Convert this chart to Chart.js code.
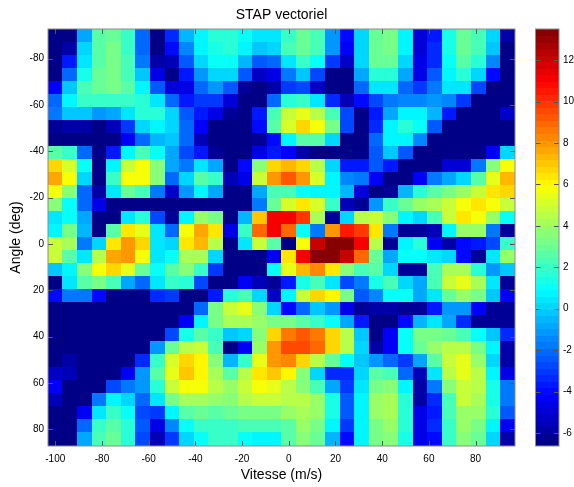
<!DOCTYPE html>
<html>
<head>
<meta charset="utf-8">
<style>
  html, body { margin: 0; padding: 0; background: #fff; }
  #wrap { position: relative; width: 574px; height: 487px; overflow: hidden; }
  #mapCanvas { position: absolute; left: 0; top: 0; }
  #barCanvas { position: absolute; left: 525px; top: 0; }
</style>
<script src="https://cdn.jsdelivr.net/npm/chart.js@4/dist/chart.umd.min.js"></script>
</head>
<body>
<div id="wrap">
  <canvas id="mapCanvas" width="574" height="487"></canvas>
  <canvas id="barCanvas" width="49" height="487"></canvas>
</div>
<script>
// cell centres
const vitesse = [-100, -93.75, -87.5, -81.25, -75, -68.75, -62.5, -56.25, -50, -43.75, -37.5, -31.25, -25, -18.75, -12.5, -6.25,
  0, 6.25, 12.5, 18.75, 25, 31.25, 37.5, 43.75, 50, 56.25, 62.5, 68.75, 75, 81.25, 87.5, 93.75];
const angle = [-90, -84.375, -78.75, -73.125, -67.5, -61.875, -56.25, -50.625, -45, -39.375, -33.75, -28.125, -22.5, -16.875, -11.25, -5.625,
  0, 5.625, 11.25, 16.875, 22.5, 28.125, 33.75, 39.375, 45, 50.625, 56.25, 61.875, 67.5, 73.125, 78.75, 84.375];

const xTicks = [-100, -80, -60, -40, -20, 0, 20, 40, 60, 80];
const yTicks = [-80, -60, -40, -20, 0, 20, 40, 60, 80];
const barTicks = [-6, -4, -2, 0, 2, 4, 6, 8, 10, 12];

const colorMin = -6.63;
const colorMax = 13.5;

// one row per angle, values in dB
const stap = [
  [-6.5,-6.5,-0.8,2.5,3,2,-2.2,-6.5,-3.3,-0.5,0.9,1.6,1.8,1,0.3,0.6, 2,3,2.4,-1,-4,0,3,3.2,0.9,-5,-3.5,1.3,3,2.4,0,-6],
  [-6.5,-5.8,0,2.5,3.2,2,-2,-6.5,-4,-1.3,0.8,1.3,1.6,0.9,-0.3,0.2, 2.2,3,2.2,-1.2,-4.2,0.1,3,3.3,0.9,-4.8,-3.3,1.4,3,2.2,-0.2,-6.5],
  [-6.5,-3.6,0.5,2.7,3.2,2.2,-1.7,-6,-5.5,-2.5,0,1,1,-0.5,-2.5,-2, 0.6,2,1,-3,-5.3,0,2.9,2.9,0,-4.6,-3.4,1,2.5,1.6,-1.5,-6.5],
  [-6.5,-2,1.5,3,3.2,2.2,-0.3,-4.7,-6.4,-3.7,-1,0.2,0.2,-2.5,-5.3,-4.6, -1.6,-0.3,-2.6,-6.5,-6.5,-0.8,1.8,1.8,-0.8,-4.5,-2.5,0.9,1.6,0.2,-3.9,-6.5],
  [-4.3,-0.2,2.2,3,3.2,2.5,0.7,-2.5,-5,-4.5,-2,-1,-2.5,-6.2,-6.5,-6, -3,-2.7,-5.3,-6.5,-6.5,-2,0.4,0.5,-2,-3,-1.8,0.4,0.3,-2.7,-6.5,-6.5],
  [-2,0.9,2,2.1,2.1,2.1,1.8,0.3,-2,-3.5,-3,-3,-4.8,-6.4,-6.5,-2, 1.7,1.9,0.6,-3.2,-5.5,-4,-2.7,-1.8,-1.5,-1.5,-1,-1.4,-3.1,-6.5,-6.5,-6.5],
  [-1.7,-0.2,-0.2,-1,-0.7,0.6,1.8,1.8,0,-2.5,-3.6,-4.6,-6.3,-6.5,-3.6,2.2, 4.7,5.4,4.6,2.2,-2.7,-6.5,-3.5,-0.8,0.7,0.8,-0.6,-3.6,-6.5,-6.5,-6.5,-5.3],
  [-6.2,-6,-6,-6.5,-5.6,-3,0,0.9,0.2,-2,-4.2,-6.5,-6.5,-6.5,-3.8,2.5, 5.3,6.6,5.8,3.4,-2.7,-6.5,-3.2,0.9,1.8,1,-2.3,-6.5,-6.5,-6.5,-6.5,-6.5],
  [-6.5,-6.5,-6.5,-6.5,-6.5,-4.2,-2,-0.5,-0.3,-2.2,-5.4,-6.5,-6.5,-6.5,-6.3,-3.8, 0.9,2.7,2.5,0,-6.5,-6.5,-2,0.8,0.7,-1.3,-6.5,-6.5,-6.5,-6.5,-6.5,-6.5],
  [2.7,2,-2,-6.5,-3.5,0.8,2.2,1.2,-0.7,-2.7,-3.7,-6.2,-6.5,-6.4,-4.6,-3.5, -4.2,-5.7,-6.4,-6.5,-6.5,-6.4,-2.4,-0.2,-2.4,-6.5,-6.5,-6.5,-6.5,-6.5,-4.3,0.2],
  [6.8,5.3,1,-6.5,0.9,4.8,5.7,3.6,-0.7,-1.9,0.4,-0.7,-6.5,-4,3.5,6.8, 7.3,6.7,4.5,0,-3.6,-3.5,-2.5,-3.7,-6.5,-6.5,-6.4,-5,-5,-1.9,3.5,5.9],
  [7.8,5.8,0.2,-6.5,2,5.9,5.9,3.7,-2,0.2,2.5,2,-5.5,-4.5,4.8,8, 9.3,7.9,5.2,0.9,-1.3,-1.9,-4.2,-6.5,-6.4,-4.2,-1.6,-0.8,0.2,2.8,5.5,7.3],
  [5.8,3.5,-2,-6,0.5,3,2.3,-1.7,-5.3,-1,0.9,-0.7,-6.5,-6.5,-0.8,2.2, 2.2,1.2,0.8,0.8,-0.5,-5,-6.4,-6.2,-0.5,1.8,2.5,3.2,4,5,6.3,6.8],
  [3.6,1,-2,-4.5,-6.5,-6.5,-6.5,-6.5,-6.5,-6.5,-6.5,-6.5,-6.5,-6.5,-1.7,3, 5.2,6.5,5.2,2.1,-5.5,-6.2,-1.2,2,3.1,4,4.1,5,5.9,6.5,5.9,4.8],
  [0.5,1.2,-0.8,-6.5,-6.5,0.6,1.8,-2.6,-6.3,0.7,4,3.4,-6.5,-0.6,7,11, 11,9.8,4.3,-6.3,0,4.6,5,3.5,0.8,0,2.3,5,6.5,5.8,3.8,1.2],
  [0.8,3.3,-0.4,-6.5,2.5,6.5,5.5,0.3,-2.2,5.8,7.8,6.4,-4.6,2,9,11, 9,1,-1.8,8,10.5,10,6.5,-1.8,-6.3,-6.3,-5.5,0.8,3.8,3.8,-1.8,-6.3],
  [5,4.3,-1.8,0,6.5,8,6.8,0.3,0.2,6.3,7.5,4.5,-6.5,0.3,4.8,2.8, -6.5,5.9,12,13.3,13.3,11,4.6,-6.2,0.8,1.6,-4.3,-6,-3.8,-3.5,-2.7,2],
  [5,2.8,0.3,4.6,7.6,8,5.8,0.5,1,4.2,4.2,0,-6.5,-6.5,-6.5,-4.4, 6.5,11,13.3,13.5,12,9,3,-0.8,1,1,0.4,0,-3.8,-6.2,0.3,4],
  [-0.2,0.8,3.5,5.9,6.8,5.5,3,1.2,2.8,3.6,2,-3,-6.5,-6.5,-6.5,1.2, 5.5,7.5,8.2,6.3,3.6,2.4,2.5,0.2,-6.2,-6.2,2.4,4.3,4.3,1.6,-1,-0.2],
  [-6.5,0.3,2.6,3.3,2.4,-0.7,-2,0.3,2,1.6,-2.7,-6.5,-6.5,-4.3,-5.5,-6.3, -3.5,1.3,2.3,0.5,-2.8,-1.7,1.5,2.2,0,-0.8,2.4,4.8,5.6,4.2,0.3,-6.2],
  [-3.8,-1.8,-1.8,-4,-6.5,-6.5,-6.5,-3.4,-3,-6.5,-6.5,-3.5,1.8,2.2,0,-5.2, 0.9,5,6.8,6.2,3.3,-2.5,-1.4,1.2,1.2,-0.8,0.4,3,3.9,3.2,-0.1,-4.2],
  [-6.5,-6.5,-6.5,-6.5,-6.5,-6.5,-6.5,-6.5,-6.5,-6.5,-2.2,3.2,5,5.5,3.5,0, -4,-2,-0.1,-1,-4.7,-6.3,-5.8,-5.8,-6.3,-6.3,-3.6,-1,-1,-4.2,-6.3,-6.3],
  [-6.5,-6.5,-6.5,-6.5,-6.5,-6.5,-6.5,-6.5,-6.5,-4.2,0.7,3.3,4.3,4.3,4,3.4, 3.3,2.8,2,1,-0.7,-3.5,-6.5,-6.5,-4,-0.6,0.4,-0.7,-3.3,-6.2,-6.3,-6.3],
  [-6.5,-6.5,-6.5,-6.5,-6.5,-6.5,-6.5,-6.5,-2.8,1.4,2.8,2,-0.2,0,3.7,6.8, 8.6,9.3,8.5,6.7,4.5,-0.1,-6.5,-4.4,1,3.2,3.3,2.9,2.3,1.2,-0.2,-3.3],
  [-6.5,-6.5,-6.5,-6.5,-6.5,-6.5,-6.5,-1.2,2.9,4.4,4.8,2.2,-6.5,-4.3,4,8, 9.5,9.5,8.8,6.8,4.5,0,-5.8,-4.3,1,3.1,4,4.6,4.6,3.3,0.9,-5.7],
  [-6.5,-6,-6.5,-6.5,-6.5,-6.5,-3.2,2.1,5.3,6.8,6.2,3.5,-0.6,2,5.6,8, 8.2,6.8,4.5,3,1.2,-0.1,-1,-2,-2.9,-0.9,2.6,4.8,5.5,3.8,0.2,-6],
  [-5.2,-5.6,-6.5,-6.5,-6.5,-4.3,-1,2.8,5.6,7,6.2,4.2,2.8,4.4,6.5,7, 6.2,3.5,0,-3.2,-3.3,0,2.5,2.4,-2.2,-5.6,0.6,4.4,5.5,4.4,0.9,-4.5],
  [-4.3,-6.5,-6.5,-6.5,-2.8,-1.9,-1,1.7,4.8,5.9,5.7,4.6,4,5,5.9,5.6, 4.5,3.6,2.3,-0.8,-3,0.3,3.4,3.7,0.9,-6,-1.8,3.5,5,4.4,1.4,-1.7],
  [-5.5,-6.5,-6.5,-1.8,0.9,0.1,-2,0.3,3.3,4.3,4.3,3.9,3.5,4.4,4.7,4.7, 4.4,4.4,3.8,1.4,-2.5,0.9,4,4.2,1.7,-5.7,-3.3,2.4,4.7,4.3,1.3,-1.7],
  [-6.5,-6.5,-4.4,0.6,2,1.1,-2.6,-3,0.9,2.8,2.9,2.8,3,3.3,3.3,3.4, 3.9,4.3,3.8,1.4,-2.5,0.9,3.9,4.3,1.7,-4.7,-3.5,2.2,4,3.9,1.6,-2.5],
  [-6.5,-6.5,-2,2,2.7,1.7,-2.5,-4.5,-1.3,1,2,2.1,2,2.4,2.2,2.2, 2.8,3.9,3.3,0.7,-3.1,0.8,3.3,3.9,1.7,-4.7,-3.4,2,3.9,3.4,0.9,-4.3],
  [-6.5,-6.5,-0.8,2.3,3,1.7,-2.6,-5.5,-3,0,1.2,2,2,1.2,0.9,0.9, 2.6,3.5,2.9,-0.5,-4,0.8,3.3,3.5,1.5,-4.7,-3.8,2,3.5,3.1,0,-5.7]
];

const fontFamily = '"Liberation Sans", Arial, sans-serif';
Chart.defaults.font.family = fontFamily;
Chart.defaults.color = '#000';

// matlab style jet, 64 steps
function jetColor(value) {
  let idx = Math.floor((value - colorMin) / (colorMax - colorMin) * 64);
  idx = Math.max(0, Math.min(63, idx));
  const t = (idx + 0.5) / 64;
  const c = (k) => Math.round(255 * Math.max(0, Math.min(1, 1.5 - Math.abs(4 * t - k))));
  return `rgb(${c(3)},${c(2)},${c(1)})`;
}

// a filled little canvas used as point style, so a cell stays a rectangle
const swatches = {};
function swatch(color, w, h) {
  const key = color + w + 'x' + h;
  if (!swatches[key]) {
    const cv = document.createElement('canvas');
    cv.width = w;
    cv.height = h;
    const c = cv.getContext('2d');
    c.fillStyle = color;
    c.fillRect(0, 0, w, h);
    swatches[key] = cv;
  }
  return swatches[key];
}

// box around the plot with inward ticks on all sides, like matlab axes
const boxedAxes = {
  id: 'boxedAxes',
  afterDatasetsDraw(chart) {
    const { ctx, chartArea: a, scales } = chart;
    ctx.save();
    ctx.lineWidth = 1;
    ctx.strokeStyle = '#555';
    ctx.beginPath();
    if (scales.x.options.display) {
      scales.x.ticks.forEach((t) => {
        const px = Math.round(scales.x.getPixelForValue(t.value)) + 0.5;
        ctx.moveTo(px, a.bottom);
        ctx.lineTo(px, a.bottom - 5);
        ctx.moveTo(px, a.top);
        ctx.lineTo(px, a.top + 5);
      });
    }
    scales.y.ticks.forEach((t) => {
      const py = Math.round(scales.y.getPixelForValue(t.value)) + 0.5;
      ctx.moveTo(a.left, py);
      ctx.lineTo(a.left + 5, py);
      ctx.moveTo(a.right, py);
      ctx.lineTo(a.right - 5, py);
    });
    ctx.stroke();
    ctx.strokeStyle = '#8c8c8c';
    ctx.strokeRect(a.left, a.top, a.right - a.left, a.bottom - a.top);
    ctx.restore();
  }
};

const cellPoints = [];
stap.forEach((row, r) => {
  row.forEach((v, c) => {
    cellPoints.push({ x: vitesse[c], y: angle[r], v: v });
  });
});

new Chart(document.getElementById('mapCanvas'), {
  type: 'scatter',
  data: {
    datasets: [{
      data: cellPoints,
      pointRadius: 8,
      pointHoverRadius: 8,
      pointStyle: (ctx) => swatch(jetColor(ctx.raw ? ctx.raw.v : 0), 15, 14)
    }]
  },
  plugins: [boxedAxes],
  options: {
    responsive: false,
    animation: false,
    events: [],
    layout: { padding: { left: 0, right: 59, top: 0, bottom: 0 } },
    plugins: {
      legend: { display: false },
      tooltip: { enabled: false },
      title: {
        display: true,
        fullSize: false,
        text: 'STAP vectoriel',
        font: { size: 14, weight: 'normal' },
        padding: { top: 6.3, bottom: 5.9 }
      }
    },
    scales: {
      x: {
        type: 'linear',
        min: -103.125,
        max: 96.875,
        afterBuildTicks: (s) => { s.ticks = xTicks.map((v) => ({ value: v })); },
        afterFit: (s) => { s.height = 41; },
        grid: { display: false, drawTicks: false },
        border: { display: false },
        ticks: { font: { size: 10 }, padding: 7, maxRotation: 0, autoSkip: false },
        title: { display: true, text: 'Vitesse (m/s)', font: { size: 14 }, padding: { top: 0, bottom: 3 } }
      },
      y: {
        type: 'linear',
        reverse: true,
        min: -92.8125,
        max: 87.1875,
        afterBuildTicks: (s) => { s.ticks = yTicks.map((v) => ({ value: v })); },
        afterFit: (s) => { s.width = 48; },
        grid: { display: false, drawTicks: false },
        border: { display: false },
        ticks: { font: { size: 10 }, padding: 4, autoSkip: false },
        title: { display: true, text: 'Angle (deg)', font: { size: 14 }, padding: { top: 8, bottom: 0 } }
      }
    }
  }
});

// colorbar: the 64 steps of the map
const barLevels = [];
for (let i = 0; i < 64; i++) {
  barLevels.push({ x: 0, y: colorMin + (i + 0.5) * (colorMax - colorMin) / 64 });
}

new Chart(document.getElementById('barCanvas'), {
  type: 'scatter',
  data: {
    datasets: [{
      data: barLevels,
      pointRadius: 4,
      pointHoverRadius: 4,
      pointStyle: (ctx) => swatch(jetColor(ctx.raw ? ctx.raw.y : 0), 26, 8)
    }]
  },
  plugins: [boxedAxes],
  options: {
    responsive: false,
    animation: false,
    events: [],
    layout: { padding: { left: 10.5, right: 0, top: 29, bottom: 41 } },
    plugins: { legend: { display: false }, tooltip: { enabled: false } },
    scales: {
      x: { type: 'linear', display: false, min: -1, max: 1 },
      y: {
        type: 'linear',
        position: 'right',
        min: colorMin,
        max: colorMax,
        afterBuildTicks: (s) => { s.ticks = barTicks.map((v) => ({ value: v })); },
        afterFit: (s) => { s.width = 15; },
        grid: { display: false, drawTicks: false },
        border: { display: false },
        ticks: { font: { size: 10 }, padding: 4, autoSkip: false }
      }
    }
  }
});
</script>
</body>
</html>
